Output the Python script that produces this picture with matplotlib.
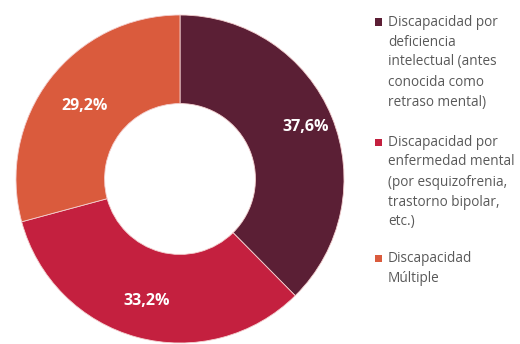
import numpy as np
import matplotlib.pyplot as plt
from matplotlib.patches import Rectangle

labels = [
    'Discapacidad por\ndeficiencia\nintelectual (antes\nconocida como\nretraso mental)',
    'Discapacidad por\nenfermedad mental\n(por esquizofrenia,\ntrastorno bipolar,\netc.)',
    'Discapacidad\nMúltiple',
]
values = [37.6, 33.2, 29.2]
pct_labels = ['37,6%', '33,2%', '29,2%']
colors = ['#5B1F35', '#C4203F', '#DA5B3D']

W, H = 520, 344
fig = plt.figure(figsize=(W / 100, H / 100), dpi=100)
# donut centred at about (180, 179) px, radius ~164 px
R = 164
ax = fig.add_axes([(180 - R) / W, (H - 179 - R) / H, 2 * R / W, 2 * R / H])
wedges, _ = ax.pie(values, colors=colors, startangle=90, counterclock=False,
                   radius=1.0, wedgeprops=dict(width=0.54, edgecolor='#f4d0d0', linewidth=0.6))
ax.set_xlim(-1, 1)
ax.set_ylim(-1, 1)
ax.set_aspect('equal')

# percentage labels
label_r = [0.83, 0.77, 0.73]
start = 90.0
for v, t, r in zip(values, pct_labels, label_r):
    mid = start - v * 3.6 / 2
    start -= v * 3.6
    ax.text(r * np.cos(np.radians(mid)), r * np.sin(np.radians(mid)), t,
            ha='center', va='center', color='white',
            fontsize=11.5, fontweight='bold', family='Open Sans')

# legend, drawn line by line
block_top = [22, 142, 258]   # centre of first line, px from top
line_h = 20
for lab, col, y0 in zip(labels, colors, block_top):
    fig.patches.append(Rectangle((375 / W, 1 - (y0 + 3.5) / H), 7 / W, 7 / H,
                                 transform=fig.transFigure, facecolor=col, edgecolor='none'))
    for i, line in enumerate(lab.split('\n')):
        fig.text(388 / W, 1 - (y0 + i * line_h) / H, line, ha='left', va='center',
                 color='#595959', fontsize=9.8, family='Open Sans')

fig.savefig('out.png', dpi=100)
